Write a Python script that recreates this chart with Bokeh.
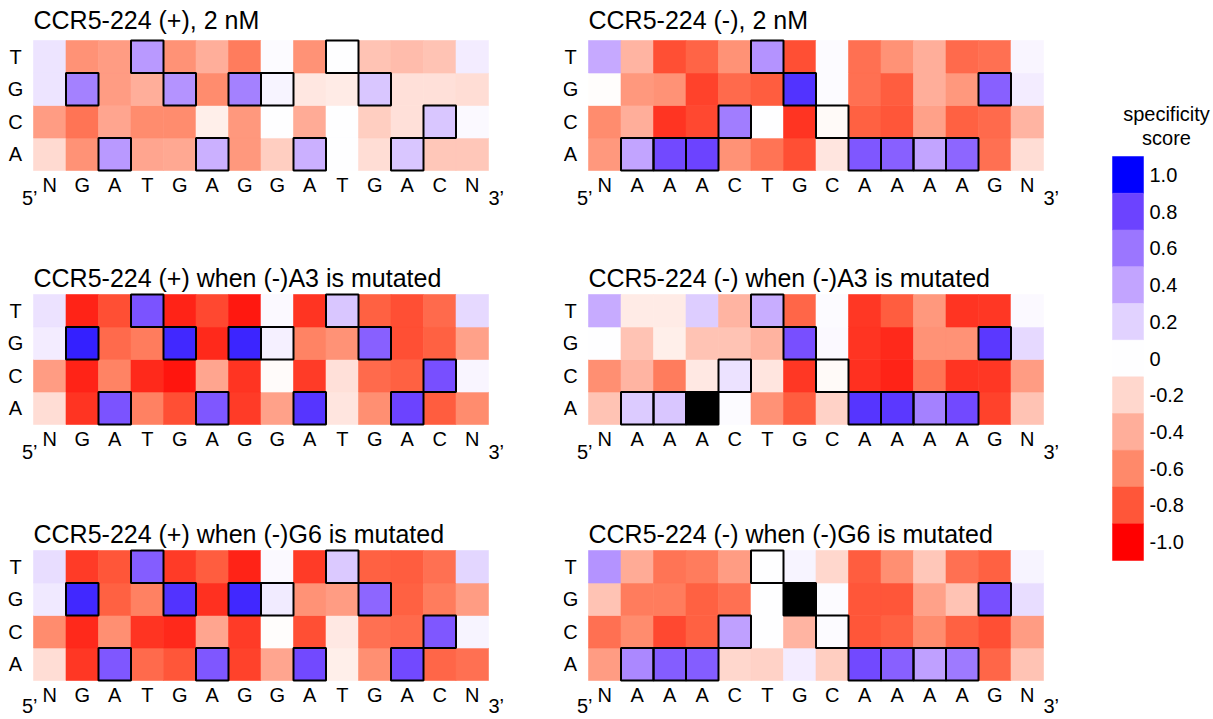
import numpy as np
from bokeh.plotting import figure
from bokeh.models import LinearColorMapper, ColumnDataSource, Range1d
from bokeh.layouts import row, column
from bokeh.embed import file_html
from bokeh.resources import INLINE

FONT = "Liberation Sans"

# ---------------- data ----------------
ROWS = ["A", "C", "G", "T"]            # bottom -> top
PLUS_SEQ = list("NGATGAGGATGACN")
MINUS_SEQ = list("NAAACTGCAAAAGN")

NAN = float("nan")

# Panel 1: CCR5-224 (+), 2 nM
p1_T = [0.12, -0.55, -0.50, 0.45, -0.55, -0.40, -0.65, 0.02, -0.55, 0.00, -0.30, -0.33, -0.30, 0.08]
p1_G = [0.12, 0.55, -0.50, -0.40, 0.47, -0.58, 0.55, 0.05, -0.12, -0.10, 0.25, -0.15, -0.15, -0.17]
p1_C = [-0.50, -0.68, -0.45, -0.58, -0.58, -0.08, -0.52, 0.00, -0.42, 0.00, -0.25, -0.15, 0.25, 0.03]
p1_A = [-0.18, -0.55, 0.45, -0.45, -0.43, 0.35, -0.52, -0.25, 0.35, 0.00, -0.17, 0.25, -0.28, -0.28]

# Panel 2: CCR5-224 (-), 2 nM
p2_T = [0.38, -0.37, -0.82, -0.75, -0.55, 0.47, -0.82, 0.02, -0.70, -0.55, -0.40, -0.72, -0.70, 0.04]
p2_G = [-0.01, -0.52, -0.55, -0.85, -0.72, -0.78, 0.85, 0.02, -0.70, -0.78, -0.40, -0.52, 0.68, 0.08]
p2_C = [-0.58, -0.40, -0.88, -0.83, 0.57, 0.00, -0.88, -0.03, -0.76, -0.80, -0.47, -0.76, -0.72, -0.37]
p2_A = [-0.52, 0.40, 0.78, 0.80, -0.55, -0.68, -0.82, -0.13, 0.72, 0.68, 0.40, 0.66, -0.70, -0.17]

# Panel 3: CCR5-224 (+) when (-)A3 is mutated
p3_T = [0.13, -0.92, -0.82, 0.74, -0.92, -0.83, -0.94, 0.03, -0.88, 0.25, -0.76, -0.82, -0.72, 0.17]
p3_G = [0.08, 0.90, -0.72, -0.65, 0.88, -0.90, 0.89, 0.07, -0.62, -0.55, 0.68, -0.82, -0.76, -0.47]
p3_C = [-0.50, -0.92, -0.62, -0.90, -0.95, -0.45, -0.88, -0.02, -0.86, -0.15, -0.72, -0.76, 0.75, 0.04]
p3_A = [-0.17, -0.88, 0.74, -0.63, -0.82, 0.72, -0.86, -0.47, 0.84, -0.13, -0.57, 0.80, -0.78, -0.58]

# Panel 4: CCR5-224 (-) when (-)A3 is mutated
p4_T = [0.37, -0.10, -0.10, 0.22, -0.37, 0.36, -0.74, 0.02, -0.87, -0.78, -0.52, -0.88, -0.87, 0.03]
p4_G = [0.00, -0.30, -0.08, -0.30, -0.30, -0.38, 0.75, 0.03, -0.88, -0.90, -0.55, -0.55, 0.83, 0.17]
p4_C = [-0.57, -0.37, -0.65, -0.11, 0.13, -0.13, -0.87, -0.03, -0.89, -0.92, -0.68, -0.88, -0.87, -0.50]
p4_A = [-0.30, 0.23, 0.25, NAN, 0.02, -0.55, -0.78, -0.22, 0.84, 0.83, 0.55, 0.78, -0.85, -0.30]

# Panel 5: CCR5-224 (+) when (-)G6 is mutated
p5_T = [0.15, -0.86, -0.80, 0.70, -0.86, -0.78, -0.92, 0.03, -0.86, 0.24, -0.76, -0.78, -0.70, 0.18]
p5_G = [0.10, 0.88, -0.76, -0.63, 0.85, -0.89, 0.88, 0.09, -0.55, -0.50, 0.66, -0.76, -0.65, -0.50]
p5_C = [-0.58, -0.90, -0.57, -0.88, -0.90, -0.45, -0.86, -0.01, -0.82, -0.11, -0.70, -0.72, 0.72, 0.05]
p5_A = [-0.17, -0.87, 0.72, -0.72, -0.80, 0.72, -0.85, -0.45, 0.78, -0.08, -0.57, 0.78, -0.74, -0.70]

# Panel 6: CCR5-224 (-) when (-)G6 is mutated
p6_T = [0.47, -0.42, -0.68, -0.65, -0.50, 0.00, 0.05, -0.20, -0.78, -0.57, -0.28, -0.70, -0.76, 0.05]
p6_G = [-0.30, -0.65, -0.65, -0.76, -0.70, 0.00, NAN, 0.02, -0.80, -0.80, -0.47, -0.30, 0.75, 0.15]
p6_C = [-0.70, -0.58, -0.83, -0.76, 0.42, 0.00, -0.37, 0.02, -0.80, -0.76, -0.58, -0.76, -0.82, -0.50]
p6_A = [-0.50, 0.52, 0.70, 0.70, -0.20, -0.22, 0.08, -0.25, 0.78, 0.68, 0.42, 0.58, -0.74, -0.30]

TITLES = [
    "CCR5-224 (+), 2 nM",
    "CCR5-224 (-), 2 nM",
    "CCR5-224 (+) when (-)A3 is mutated",
    "CCR5-224 (-) when (-)A3 is mutated",
    "CCR5-224 (+) when (-)G6 is mutated",
    "CCR5-224 (-) when (-)G6 is mutated",
]

CBAR_VALUES = [1.0, 0.8, 0.6, 0.4, 0.2, 0.0, -0.2, -0.4, -0.6, -0.8, -1.0]
CBAR_LABELS = ["1.0", "0.8", "0.6", "0.4", "0.2", "0", "-0.2", "-0.4", "-0.6", "-0.8", "-1.0"]
CBAR_TITLE = ["specificity", "score"]

# ---------------- colour map ----------------
anchor_v = [-1.0, -0.8, -0.6, -0.4, -0.2, 0.0, 0.2, 0.4, 0.6, 0.8, 1.0]
anchor_rgb = [
    (255, 0, 0), (255, 88, 58), (255, 137, 106), (255, 175, 155), (255, 215, 205),
    (255, 255, 255),
    (225, 210, 255), (195, 165, 255), (155, 118, 255), (110, 68, 255), (0, 0, 255),
]
palette = []
for i in range(256):
    v = -1 + 2 * i / 255
    rgb = [int(round(np.interp(v, anchor_v, [c[k] for c in anchor_rgb]))) for k in range(3)]
    palette.append("#%02x%02x%02x" % tuple(rgb))
mapper = LinearColorMapper(palette=palette, low=-1, high=1, nan_color="black")

CELL = 32.5     # px per cell


def panel(title, seq, vals, left_px, top_px, bottom_px, right_px, title_gap, tag_gap):
    n = len(seq)
    xs, ys, vs = [], [], []
    for ri, base in enumerate(ROWS):
        for c in range(n):
            xs.append(c)
            ys.append(ri)
            vs.append(vals[base][c])
    src = ColumnDataSource(dict(x=xs, y=ys, v=vs))
    fw = int(round(left_px + n * CELL + right_px))
    fh = int(round(top_px + 4 * CELL + bottom_px))
    p = figure(frame_width=fw, frame_height=fh,
               x_range=Range1d(-0.5 - left_px / CELL, n - 0.5 + right_px / CELL),
               y_range=Range1d(-0.5 - bottom_px / CELL, 3.5 + top_px / CELL),
               toolbar_location=None, output_backend="svg",
               min_border_top=0, min_border_bottom=0, min_border_left=0, min_border_right=0)
    p.rect(x="x", y="y", width=1, height=1, source=src,
           fill_color={"field": "v", "transform": mapper},
           line_color={"field": "v", "transform": mapper}, line_width=0.6)
    ox = [c for c, b in enumerate(seq) if b != "N"]
    oy = [ROWS.index(b) for b in seq if b != "N"]
    p.rect(x=ox, y=oy, width=1, height=1, fill_color=None, line_color="black", line_width=2)

    txt = dict(text_font={"value": FONT}, text_color="black", text_baseline="middle")
    # row labels (T, G, C, A)
    p.text(x=[-0.5 - 18 / CELL] * 4, y=list(range(4)), text=ROWS,
           text_font_size={"value": "20px"}, text_align="center", **txt)
    # nucleotide labels under the columns
    p.text(x=list(range(n)), y=[-0.5 - 14.5 / CELL] * n, text=seq,
           text_font_size={"value": "20px"}, text_align="center", **txt)
    # 5' / 3' ends
    p.text(x=[-0.5 + 4 / CELL, n - 0.5], y=[-0.5 - tag_gap / CELL] * 2,
           text=["5\u2019", "3\u2019"], text_font_size={"value": "20px"},
           text_align=["right", "left"], **txt)
    # title
    p.text(x=[-0.5], y=[3.5 + title_gap / CELL], text=[title],
           text_font_size={"value": "25px"}, text_align="left", **txt)

    p.grid.visible = False
    p.axis.visible = False
    p.outline_line_color = None
    return p


def d(T, G, C, A):
    return {"T": T, "G": G, "C": C, "A": A}


# page layout: columns start at x = 0 and 563, colour bar at 1108;
# rows span y = 0-262, 262-516, 516-719
p1 = panel(TITLES[0], PLUS_SEQ, d(p1_T, p1_G, p1_C, p1_A), 33, 40, 92, 75, 21, 27.5)
p3 = panel(TITLES[2], PLUS_SEQ, d(p3_T, p3_G, p3_C, p3_A), 33, 32, 92, 75, 17, 27.5)
p5 = panel(TITLES[4], PLUS_SEQ, d(p5_T, p5_G, p5_C, p5_A), 33, 34, 39, 75, 17, 25.5)
p2 = panel(TITLES[1], MINUS_SEQ, d(p2_T, p2_G, p2_C, p2_A), 25, 40, 92, 65, 21, 27.5)
p4 = panel(TITLES[3], MINUS_SEQ, d(p4_T, p4_G, p4_C, p4_A), 25, 32, 92, 65, 17, 27.5)
p6 = panel(TITLES[5], MINUS_SEQ, d(p6_T, p6_G, p6_C, p6_A), 25, 34, 39, 65, 17, 25.5)

# ---------------- colour bar ----------------
TOTAL_H = 719
CB_W = 105
SW_TOP, SW_BOT = 156, 560
UNIT = (SW_BOT - SW_TOP) / 2.2
SW_W = 31.0
SW_LEFT_PAD = 19.5
cb = figure(frame_width=CB_W, frame_height=TOTAL_H,
            x_range=Range1d(-SW_LEFT_PAD / SW_W, (CB_W - SW_LEFT_PAD) / SW_W),
            y_range=Range1d(-1.1 - (TOTAL_H - SW_BOT) / UNIT, 1.1 + SW_TOP / UNIT),
            toolbar_location=None, output_backend="svg",
            min_border_top=0, min_border_bottom=0, min_border_left=0, min_border_right=0)
cb.rect(x=[0] * len(CBAR_VALUES), y=CBAR_VALUES, width=1, height=0.2,
        fill_color={"field": "y", "transform": mapper},
        line_color={"field": "y", "transform": mapper}, line_width=0.5)
cb.text(x=[21.5 / SW_W] * len(CBAR_VALUES), y=CBAR_VALUES, text=CBAR_LABELS,
        text_font={"value": FONT}, text_font_size={"value": "20px"},
        text_baseline="middle", text_align="left", text_color="black")
cb.text(x=[38.5 / SW_W] * 2, y=[1.1 + (SW_TOP - 113) / UNIT, 1.1 + (SW_TOP - 137) / UNIT],
        text=CBAR_TITLE, text_font={"value": FONT}, text_font_size={"value": "20px"},
        text_baseline="middle", text_align="center", text_color="black")
cb.axis.visible = False
cb.grid.visible = False
cb.outline_line_color = None

layout = row(column(p1, p3, p5), column(p2, p4, p6), cb)
open("out.html", "w").write(file_html(layout, INLINE))
